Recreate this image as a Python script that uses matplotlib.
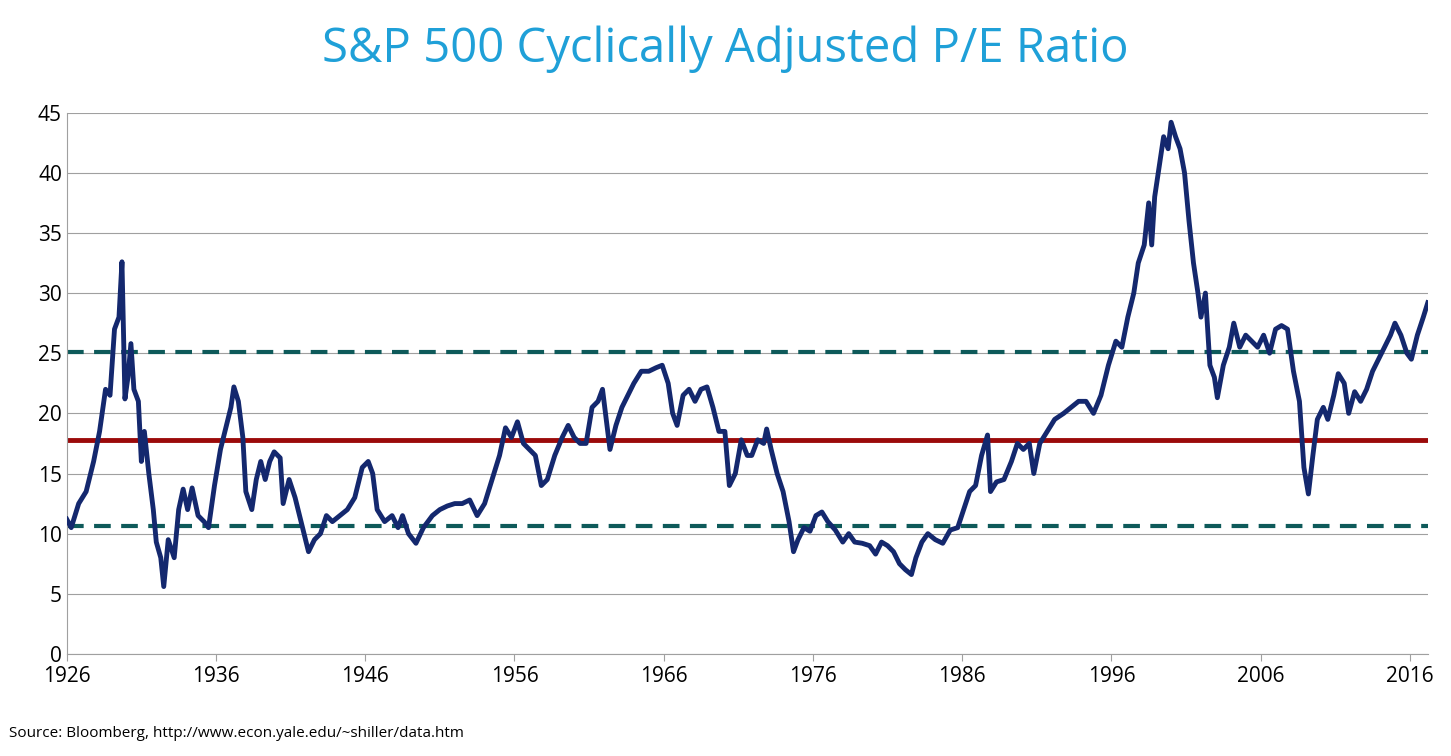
import matplotlib.pyplot as plt

plt.rcParams['font.family'] = ['Open Sans', 'DejaVu Sans']

years = [1926.0, 1926.3, 1926.8, 1927.3, 1927.8, 1928.2, 1928.6, 1928.9, 1929.2, 1929.5, 1929.7, 1929.9,
         1930.1, 1930.3, 1930.5, 1930.8, 1931.0, 1931.2, 1931.5, 1931.8, 1932.0, 1932.3, 1932.5, 1932.8,
         1933.2, 1933.5, 1933.8, 1934.1, 1934.4, 1934.8, 1935.2, 1935.5, 1935.9, 1936.3, 1936.6, 1937.0,
         1937.2, 1937.5, 1937.8, 1938.0, 1938.4, 1938.7, 1939.0, 1939.3, 1939.6, 1939.9, 1940.3, 1940.5,
         1940.9, 1941.3, 1941.7, 1942.2, 1942.6, 1943.0, 1943.4, 1943.8, 1944.3, 1944.8, 1945.3, 1945.8,
         1946.2, 1946.5, 1946.8, 1947.3, 1947.8, 1948.2, 1948.5, 1948.9, 1949.4, 1949.9, 1950.5, 1951.0,
         1951.5, 1952.0, 1952.5, 1953.0, 1953.5, 1954.0, 1954.5, 1955.0, 1955.4, 1955.8, 1956.2, 1956.6,
         1957.0, 1957.4, 1957.8, 1958.2, 1958.7, 1959.2, 1959.6, 1960.0, 1960.4, 1960.8, 1961.2, 1961.6,
         1961.9, 1962.2, 1962.4, 1962.8, 1963.2, 1963.6, 1964.0, 1964.5, 1965.0, 1965.5, 1965.9, 1966.3,
         1966.6, 1966.9, 1967.3, 1967.7, 1968.1, 1968.5, 1968.9, 1969.3, 1969.7, 1970.1, 1970.4, 1970.8,
         1971.2, 1971.6, 1971.9, 1972.3, 1972.7, 1972.9, 1973.2, 1973.6, 1974.0, 1974.4, 1974.7, 1975.0,
         1975.4, 1975.8, 1976.2, 1976.6, 1977.0, 1977.5, 1978.0, 1978.4, 1978.8, 1979.3, 1979.8, 1980.2,
         1980.6, 1981.0, 1981.4, 1981.8, 1982.2, 1982.6, 1982.9, 1983.3, 1983.7, 1984.2, 1984.7, 1985.2,
         1985.7, 1986.1, 1986.5, 1986.9, 1987.3, 1987.7, 1987.9, 1988.3, 1988.8, 1989.3, 1989.7, 1990.1,
         1990.5, 1990.8, 1991.2, 1991.7, 1992.2, 1992.8, 1993.3, 1993.8, 1994.3, 1994.8, 1995.3, 1995.8,
         1996.3, 1996.7, 1997.1, 1997.5, 1997.8, 1998.2, 1998.5, 1998.7, 1998.9, 1999.2, 1999.5, 1999.8,
         2000.0, 2000.3, 2000.6, 2000.9, 2001.2, 2001.5, 2001.8, 2002.0, 2002.3, 2002.6, 2002.9, 2003.1,
         2003.5, 2003.9, 2004.2, 2004.6, 2005.0, 2005.4, 2005.8, 2006.2, 2006.6, 2007.0, 2007.4, 2007.8,
         2008.2, 2008.6, 2008.9, 2009.2, 2009.5, 2009.8, 2010.2, 2010.5, 2010.9, 2011.2, 2011.6, 2011.9,
         2012.3, 2012.7, 2013.1, 2013.5, 2013.9, 2014.3, 2014.7, 2015.0, 2015.4, 2015.8, 2016.1, 2016.5,
         2016.9, 2017.2]
cape = [11.2, 10.5, 12.5, 13.5, 16, 18.5, 22, 21.5, 27, 28, 32.6, 21.2,
        23, 25.8, 22, 21, 16, 18.5, 15, 12, 9.3, 8, 5.6, 9.5,
        8, 12, 13.7, 12, 13.8, 11.5, 11, 10.5, 14, 17, 18.5, 20.5,
        22.2, 21, 18, 13.5, 12, 14.5, 16, 14.5, 16, 16.8, 16.3, 12.5,
        14.5, 13, 11, 8.5, 9.5, 10, 11.5, 11, 11.5, 12, 13, 15.5,
        16, 15, 12, 11, 11.5, 10.5, 11.5, 10, 9.2, 10.5, 11.5, 12,
        12.3, 12.5, 12.5, 12.8, 11.5, 12.5, 14.5, 16.5, 18.8, 18, 19.3, 17.5,
        17, 16.5, 14, 14.5, 16.5, 18, 19, 18, 17.5, 17.5, 20.5, 21,
        22, 19, 17, 19, 20.5, 21.5, 22.5, 23.5, 23.5, 23.8, 24, 22.5,
        20, 19, 21.5, 22, 21, 22, 22.2, 20.5, 18.5, 18.5, 14, 15,
        17.8, 16.5, 16.5, 17.8, 17.5, 18.7, 17, 15, 13.5, 11, 8.5, 9.5,
        10.5, 10.2, 11.5, 11.8, 11, 10.3, 9.3, 10, 9.3, 9.2, 9, 8.3,
        9.3, 9, 8.5, 7.5, 7, 6.6, 8, 9.3, 10, 9.5, 9.2, 10.3,
        10.5, 12, 13.5, 14, 16.5, 18.2, 13.5, 14.3, 14.5, 16, 17.5, 17,
        17.5, 15, 17.5, 18.5, 19.5, 20, 20.5, 21, 21, 20, 21.5, 24,
        26, 25.5, 28, 30, 32.5, 34, 37.5, 34, 38, 40.5, 43, 42,
        44.2, 43, 42, 40, 36, 32.5, 30, 28, 30, 24, 23, 21.3,
        24, 25.5, 27.5, 25.5, 26.5, 26, 25.5, 26.5, 25, 27, 27.3, 27,
        23.5, 21, 15.5, 13.3, 16.5, 19.5, 20.5, 19.5, 21.5, 23.3, 22.5, 20,
        21.8, 21, 22, 23.5, 24.5, 25.5, 26.5, 27.5, 26.5, 25, 24.5, 26.5,
        28, 29.2]

mean_level = 17.8
upper_band = 25.1
lower_band = 10.6
tick_years = [1926, 1936, 1946, 1956, 1966, 1976, 1986, 1996, 2006, 2016]

fig = plt.figure(figsize=(14.51, 7.56), dpi=100)
ax = fig.add_axes([0.046, 0.135, 0.938, 0.716])

ax.plot(years, cape, color='#14286e', linewidth=3.5, zorder=3)
ax.axhline(mean_level, color='#9b0a0a', linewidth=3.5, zorder=2)
ax.axhline(upper_band, color='#0e5a5a', linewidth=3, linestyle=(0, (4, 2.5)), zorder=2)
ax.axhline(lower_band, color='#0e5a5a', linewidth=3, linestyle=(0, (4, 2.5)), zorder=2)

ax.set_xlim(1926, 2017.2)
ax.set_ylim(0, 45)
ax.set_yticks(range(0, 46, 5))
ax.set_xticks(tick_years)
ax.grid(axis='y', color='#a0a0a0', linewidth=0.8)
ax.set_axisbelow(True)
for s in ['top', 'right']:
    ax.spines[s].set_visible(False)
for s in ['left', 'bottom']:
    ax.spines[s].set_color('#a0a0a0')
ax.tick_params(axis='both', labelsize=15, color='#a0a0a0', length=5)
ax.tick_params(axis='y', length=0)

fig.text(0.5, 0.935, 'S&P 500 Cyclically Adjusted P/E Ratio', ha='center', va='center',
         fontsize=34, color='#1fa0d8')
fig.text(0.006, 0.03, 'Source: Bloomberg, http://www.econ.yale.edu/~shiller/data.htm',
         ha='left', va='center', fontsize=11)

fig.savefig('out.png', dpi=100)
